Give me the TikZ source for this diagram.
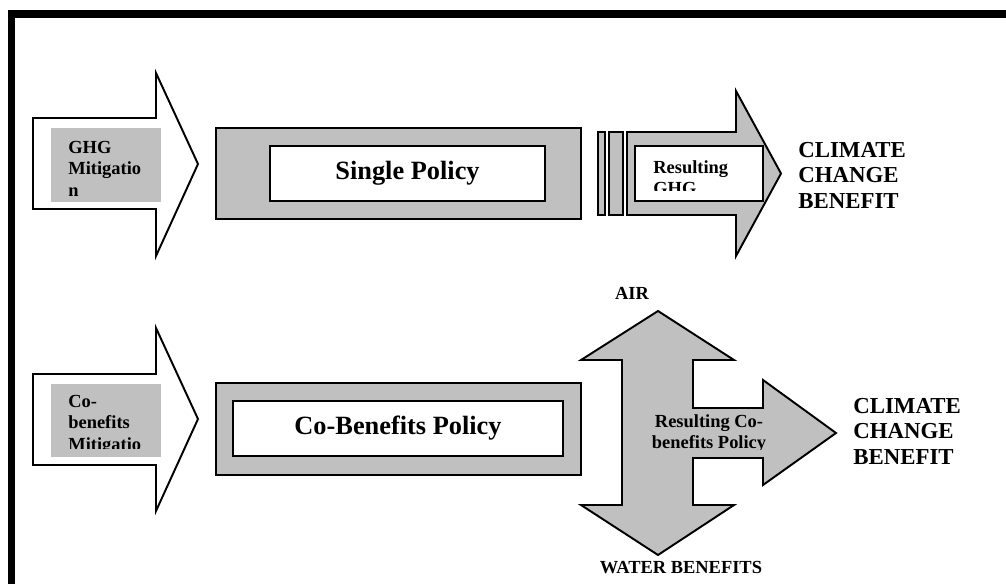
\documentclass[tikz,border=0pt]{standalone}
\usepackage{fontspec}
\setmainfont{Liberation Serif}
\definecolor{boxgrey}{RGB}{192,192,192}

\begin{document}
\begin{tikzpicture}[x=0.02cm, y=-0.02cm,
        outline/.style={draw=black, line width=1.1pt, line join=miter},
        small/.style={font=\bfseries\fontsize{10.5}{12.4}\selectfont, inner sep=0pt},
        title/.style={font=\bfseries\fontsize{15}{18}\selectfont, inner sep=0pt},
        benefit/.style={font=\bfseries\fontsize{13}{14.5}\selectfont, inner sep=0pt, align=left, anchor=base west}]
        \useasboundingbox (0,0) rectangle (1006,584);
        \draw[line width=4.4pt] (1006,14) -- (11.5,14) -- (11.5,584);

        \draw[outline, fill=white] (33,118) -- (156,118) -- (156,73) -- (198,164) -- (156,256) -- (156,209) -- (33,209) -- cycle;
        \fill[boxgrey] (51,128) rectangle (161,202);
        \begin{scope}
                \clip (51,128) rectangle (161,195);
                \node[small, align=left, anchor=base west] (ghg) at (68,196.7) {GHG\\Mitigatio\\n};
        \end{scope}
        \draw[outline, fill=boxgrey] (216,128) rectangle (581,219);
        \draw[outline, fill=white] (270,146) rectangle (545,201);
        \node[title] (single) at (407.5,173.5) {Single Policy};

        \draw[outline, fill=boxgrey] (598,132) rectangle (605,215);
        \draw[outline, fill=boxgrey] (609,132) rectangle (623,215);
        \draw[outline, fill=boxgrey] (627,132) -- (736,132) -- (736,91) -- (781,173.5) -- (736,256) -- (736,215) -- (627,215) -- cycle;
        \draw[outline, fill=white] (635,146) rectangle (763,201);
        \begin{scope}
                \clip (635,146) rectangle (763,190);
                \node[small, align=left, anchor=base west] (resghg) at (653,194.9) {Resulting\\GHG};
        \end{scope}
        \node[benefit] (climate1) at (798,208.2) {CLIMATE\\CHANGE\\BENEFIT};

        \draw[outline, fill=white] (33,374) -- (156,374) -- (156,328) -- (198,419) -- (156,511) -- (156,465) -- (33,465) -- cycle;
        \fill[boxgrey] (51,384) rectangle (161,457);
        \begin{scope}
                \clip (51,384) rectangle (161,448);
                \node[small, align=left, anchor=base west] (cob) at (68,450.7) {Co-\\benefits\\Mitigatio};
        \end{scope}
        \draw[outline, fill=boxgrey] (216,383) rectangle (581,475);
        \draw[outline, fill=white] (233,401) rectangle (563,456);
        \node[title] (cobpolicy) at (398,428.5) {Co-Benefits Policy};

        \draw[outline, fill=boxgrey] (658,311) -- (734,360) -- (693,360) -- (693,408) -- (763,408) -- (763,380) -- (836,433)
                -- (763,485) -- (763,458) -- (693,458) -- (693,505) -- (734,505) -- (658,555) -- (581,505) -- (622,505)
                -- (622,360) -- (581,360) -- cycle;
        \begin{scope}
                \clip (622,400) rectangle (790,449);
                \node[small, align=center, anchor=base] (rescob) at (709,448.9) {Resulting Co-\\benefits Policy};
        \end{scope}
        \node[small, anchor=base] (air) at (632,299) {AIR};
        \node[small, anchor=base] (water) at (681,573) {WATER BENEFITS};
        \node[benefit] (climate2) at (853,464.2) {CLIMATE\\CHANGE\\BENEFIT};
\end{tikzpicture}
\end{document}
